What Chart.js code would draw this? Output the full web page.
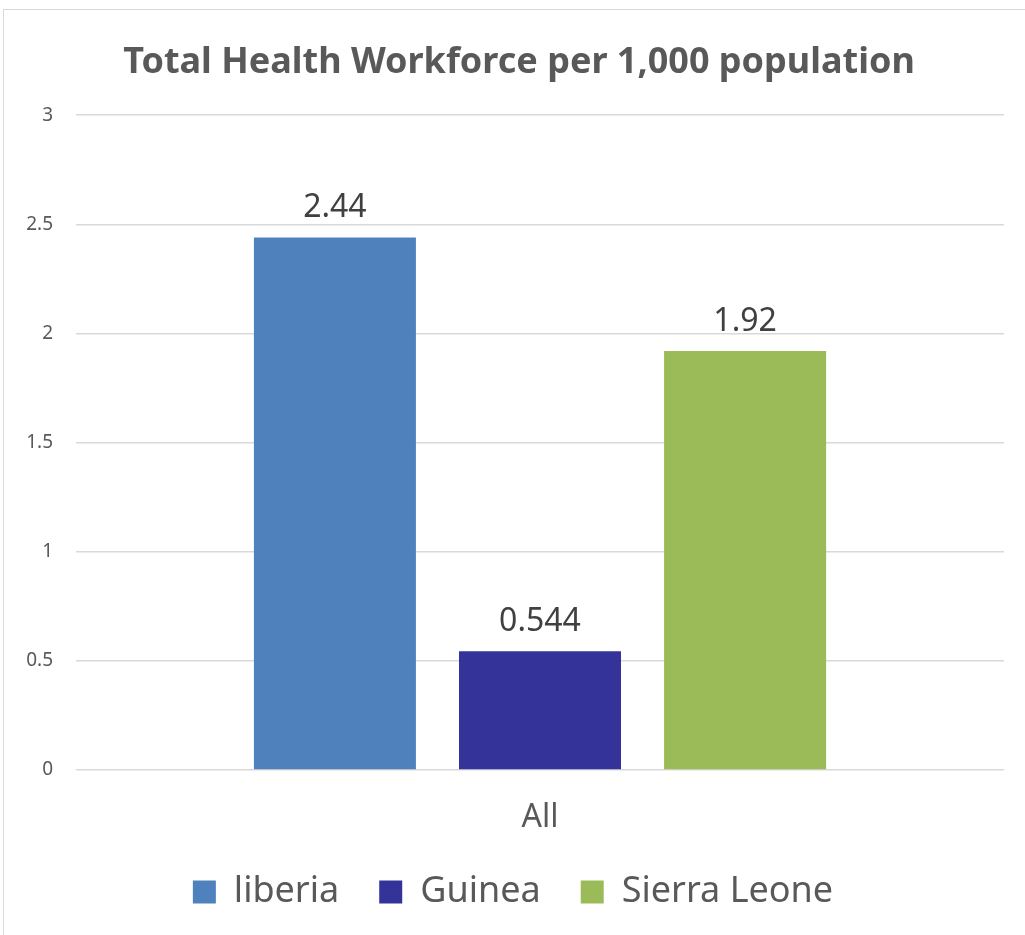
<!DOCTYPE html>
<html>
<head>
<meta charset="utf-8">
<script src="https://cdn.jsdelivr.net/npm/chart.js@4"></script>
<style>
  html, body { margin: 0; padding: 0; background: #fff; overflow: hidden; }
  #wrap { position: absolute; left: 0; top: 0; width: 1025px; height: 935px; }
</style>
</head>
<body>
<div id="wrap"><canvas id="chart"></canvas></div>
<script>
const categories = ['All'];
const seriesNames = ['liberia', 'Guinea', 'Sierra Leone'];
const liberiaValues = [2.44];
const guineaValues = [0.544];
const sierraLeoneValues = [1.92];
const yTicks = [0, 0.5, 1, 1.5, 2, 2.5, 3];

const FONT = "'Noto Sans', 'Open Sans', sans-serif";

// light frame around the chart, like the office chart area
const frame = {
  id: 'frame',
  beforeDraw(chart) {
    const c = chart.ctx;
    c.save();
    c.fillStyle = '#fff';
    c.fillRect(0, 0, chart.width, chart.height);
    c.strokeStyle = '#d9d9d9';
    c.lineWidth = 1;
    c.strokeRect(3.5, 9.5, chart.width + 10, chart.height + 10);
    c.restore();
  },
  // nudge the title a little right, it sits off-centre in the original
  afterLayout(chart) {
    chart.titleBlock.left += 12;
  }
};

// value labels above each bar
const barLabels = {
  id: 'barLabels',
  afterDatasetsDraw(chart) {
    const c = chart.ctx;
    c.save();
    c.font = '32px ' + FONT;
    c.fillStyle = '#404040';
    c.textAlign = 'center';
    c.textBaseline = 'alphabetic';
    chart.data.datasets.forEach((ds, i) => {
      chart.getDatasetMeta(i).data.forEach((bar, j) => {
        c.fillText(String(ds.data[j]), bar.x, bar.y - 20);
      });
    });
    c.restore();
  }
};

new Chart(document.getElementById('chart'), {
  type: 'bar',
  data: {
    labels: categories,
    datasets: [
      { label: seriesNames[0], data: liberiaValues, backgroundColor: '#4f81bd' },
      { label: seriesNames[1], data: guineaValues, backgroundColor: '#333399' },
      { label: seriesNames[2], data: sierraLeoneValues, backgroundColor: '#9bbb59' }
    ]
  },
  options: {
    responsive: true,
    maintainAspectRatio: false,
    animation: false,
    categoryPercentage: 0.663,
    barPercentage: 0.79,
    layout: { padding: { left: 22, right: 21, top: 0, bottom: 15 } },
    plugins: {
      title: {
        display: true,
        text: 'Total Health Workforce per 1,000 population',
        color: '#595959',
        font: { family: FONT, size: 36, weight: 'bold' },
        padding: { top: 41, bottom: 31 }
      },
      legend: {
        position: 'bottom',
        labels: {
          color: '#595959',
          font: { family: FONT, size: 36 },
          boxWidth: 23,
          boxHeight: 23,
          padding: 40
        }
      },
      tooltip: { enabled: false }
    },
    scales: {
      x: {
        afterFit(scale) { scale.height = 64; },
        grid: { display: false },
        border: { display: false },
        ticks: {
          color: '#595959',
          font: { family: FONT, size: 32, lineHeight: 1 },
          padding: 24
        }
      },
      y: {
        min: 0,
        max: 3,
        afterFit(scale) { scale.width = 54; },
        afterBuildTicks(scale) { scale.ticks = yTicks.map(v => ({ value: v })); },
        grid: { color: '#d9d9d9', lineWidth: 1.5, drawTicks: false },
        border: { display: false },
        ticks: {
          color: '#595959',
          font: { family: FONT, size: 19 },
          padding: 23,
          callback: v => String(v)
        }
      }
    }
  },
  plugins: [frame, barLabels]
});
</script>
</body>
</html>
